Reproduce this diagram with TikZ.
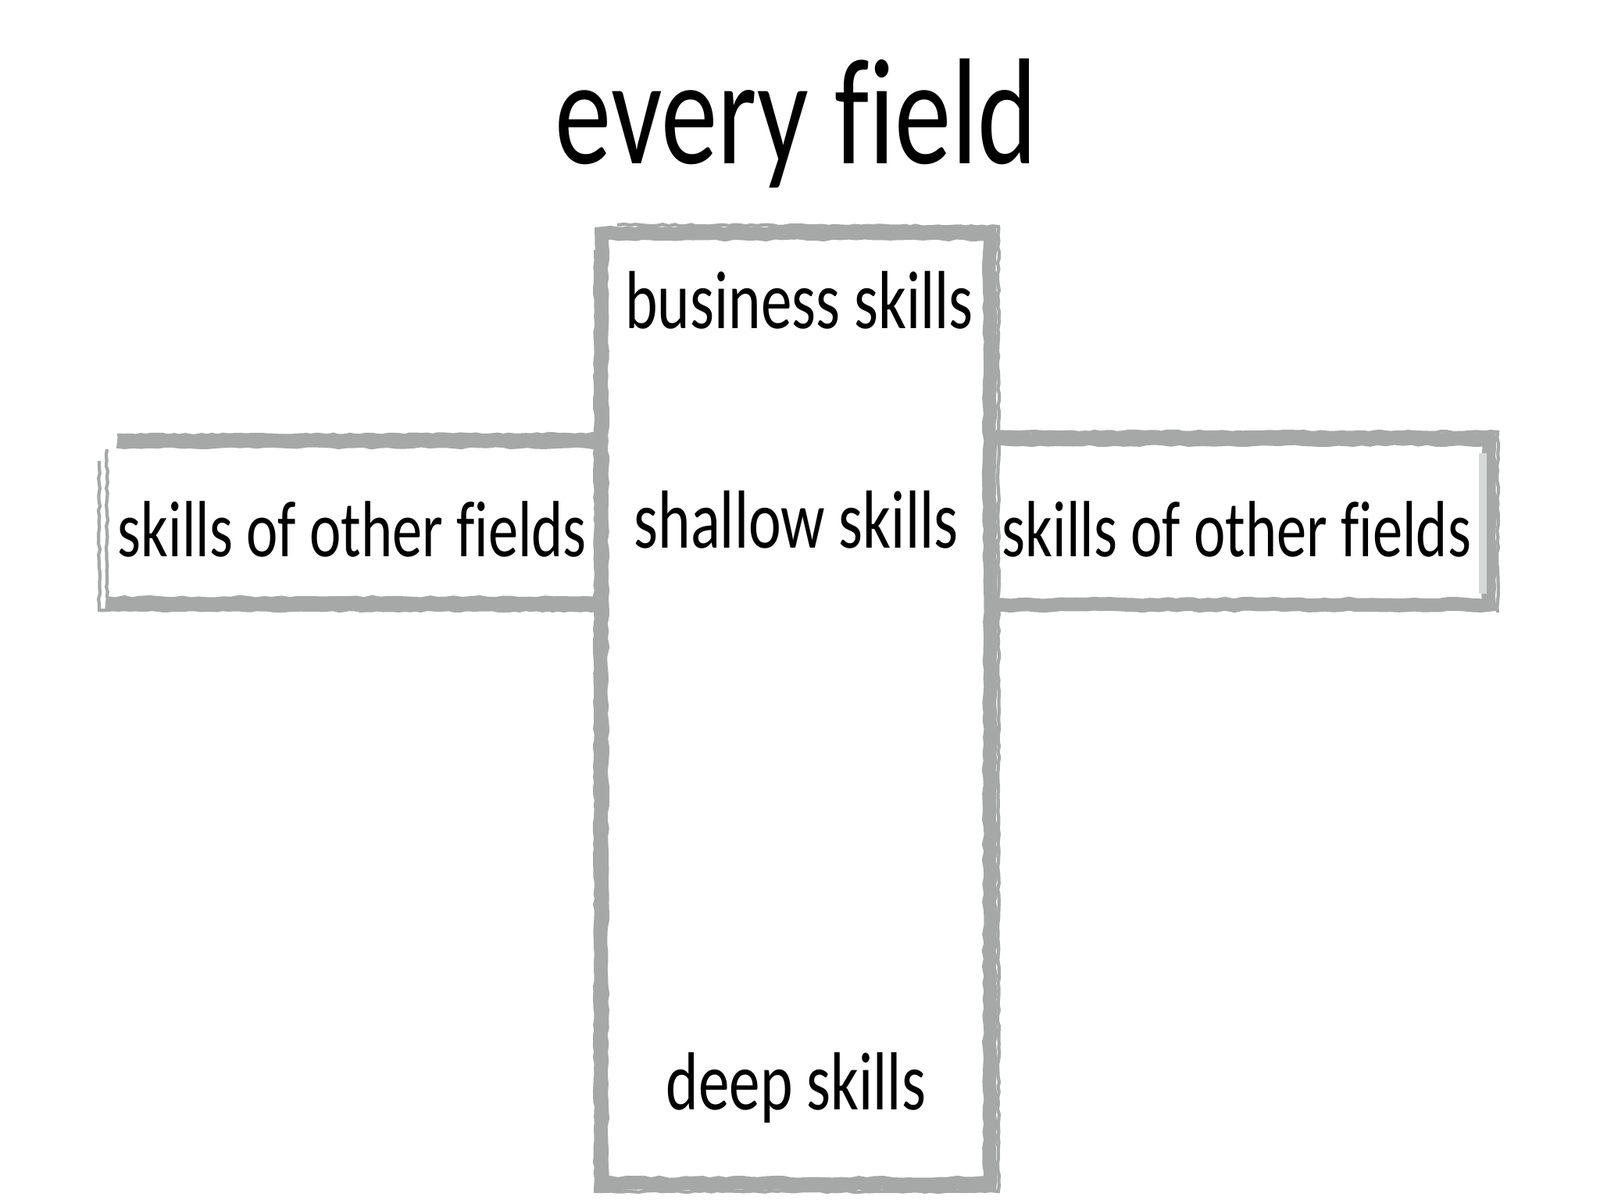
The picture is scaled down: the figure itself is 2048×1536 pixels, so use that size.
\documentclass[tikz,border=0pt]{standalone}
\usepackage{fontspec}
\newfontfamily\handfont[FakeStretch=0.75, Ligatures={NoCommon}]{Carlito}
\usepackage{tikz}
\usetikzlibrary{decorations.pathmorphing}
\definecolor{brushgray}{RGB}{166,168,168}
\definecolor{brushlight}{RGB}{214,216,216}
\tikzstyle{brush}=[draw=brushgray, line width=5pt, line join=miter, decorate, decoration={random steps, segment length=3pt, amplitude=0.4pt}]
\tikzstyle{brushthin}=[draw=brushgray, line width=1.2pt, decorate, decoration={random steps, segment length=2pt, amplitude=0.3pt}]
\tikzstyle{brushlight}=[draw=brushlight, line width=3pt]
\tikzstyle{skilltext}=[anchor=base, inner sep=0pt, font=\handfont\fontsize{30pt}{34pt}\selectfont]
\tikzstyle{titletext}=[anchor=base, inner sep=0pt, font=\handfont\fontsize{55pt}{60pt}\selectfont]

\begin{document}
\begin{tikzpicture}[x=0.01cm, y=-0.01cm]
		\useasboundingbox[fill=white] (0,0) rectangle (2048,1536);
		% side boxes
		\draw[brush] (771,565) -- (150,565);
		\draw[brush] (771,772) -- (135,772);
		\draw[brushthin] (137,575) -- (137,765);
		\draw[brushthin] (771,556) -- (150,557);
		\draw[brushthin] (771,781) -- (127,781) -- (127,590);
		\draw[brush] (1268,562) -- (1906,562) -- (1906,774) -- (1268,774);
		\draw[brushlight] (1898,580) -- (1898,760);
		\draw[brushthin] (1268,553) -- (1917,553) -- (1917,784);
		% centre box
		\draw[brush] (770,299) -- (1267,299) -- (1267,1515) -- (770,1515) -- cycle;
		\draw[brushthin] (762,320) -- (762,1525) -- (1278,1525) -- (1278,290) -- (790,288);
		% texts
		\node[titletext] (title) at (1019,209) {every field};
		\node[skilltext] (business) at (1023,420) {business skills};
		\node[skilltext] (shallow) at (1019,701) {shallow skills};
		\node[skilltext, font=\handfont\fontsize{29pt}{34pt}\selectfont] (otherleft) at (451,712) {skills of other fields};
		\node[skilltext, font=\handfont\fontsize{29pt}{34pt}\selectfont] (otherright) at (1583,712) {skills of other fields};
		\node[skilltext] (deep) at (1019,1420) {deep skills};
	\end{tikzpicture}
\end{document}
